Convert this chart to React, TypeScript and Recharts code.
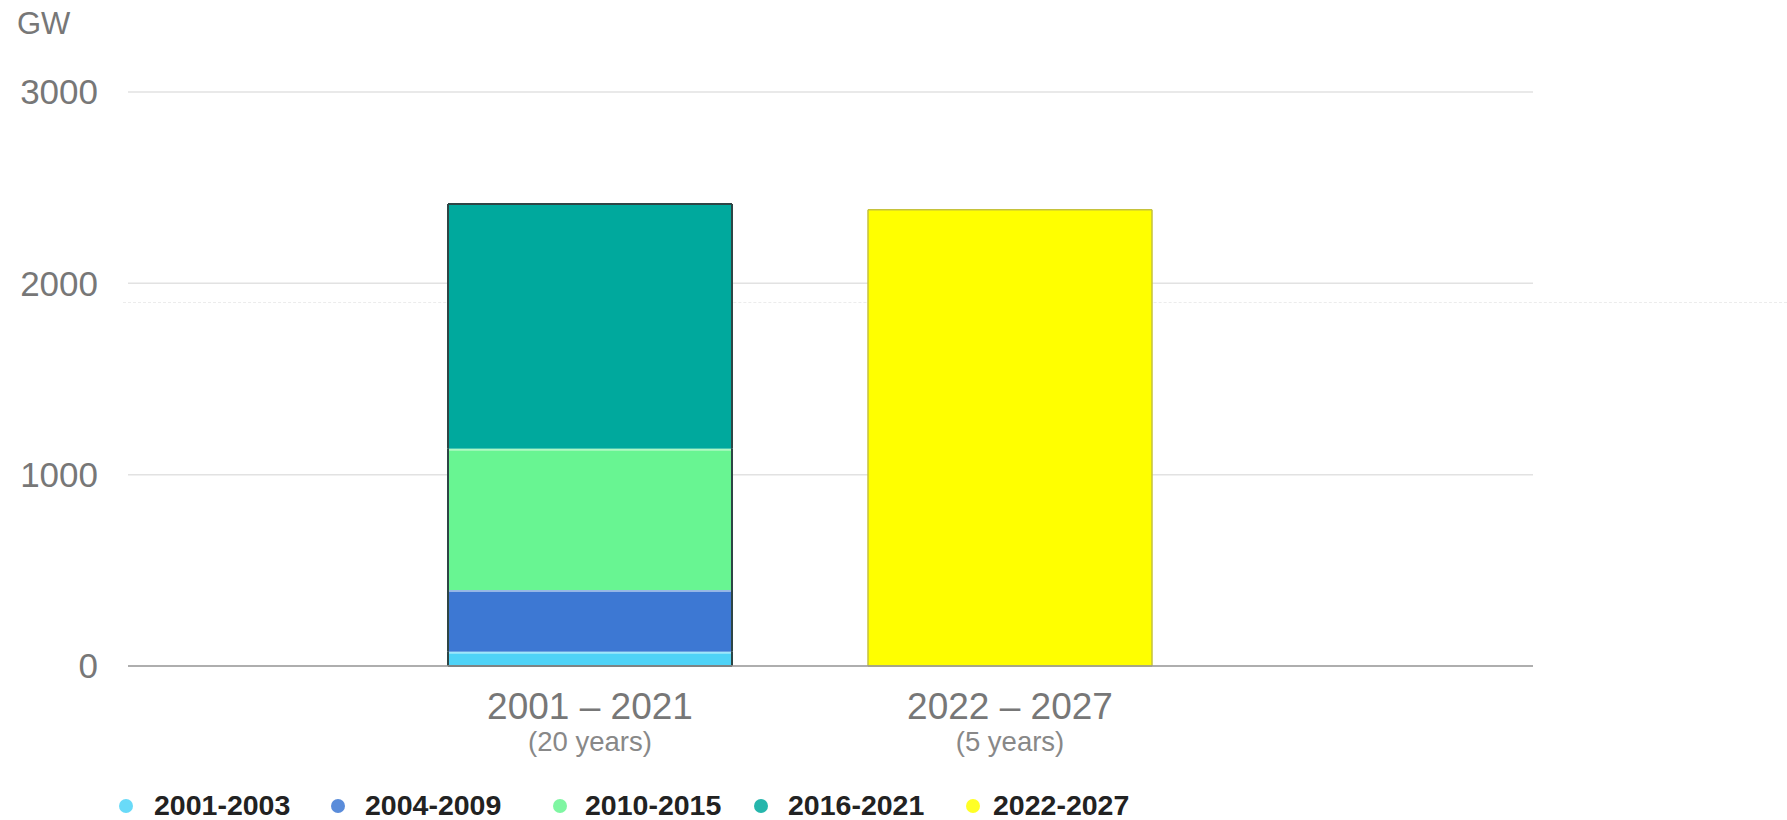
import { Bar, BarChart, CartesianGrid, XAxis, YAxis } from "recharts";

const categories = ["2001 – 2021", "2022 – 2027"];
const spans = ["(20 years)", "(5 years)"];
const seriesNames = ["2001-2003", "2004-2009", "2010-2015", "2016-2021", "2022-2027"];
const seriesColors = ["#4fd3f7", "#3d78d3", "#68f592", "#00a99d", "#ffff00"];
const outlineColors = ["#2e4545", "#c6c23c"];
const gw2001_2003 = [75, 0];
const gw2004_2009 = [322, 0];
const gw2010_2015 = [739, 0];
const gw2016_2021 = [1279, 0];
const gw2022_2027 = [0, 2384];
const yTicks = [0, 1000, 2000, 3000];

const seriesValues = [gw2001_2003, gw2004_2009, gw2010_2015, gw2016_2021, gw2022_2027];
const seriesKeys = seriesNames.map((_, i) => `s${i}`);

const data = categories.map((name, c) => {
  const row: { [key: string]: string | number } = { name, span: spans[c] };
  seriesValues.forEach((vals, i) => (row[seriesKeys[i]] = vals[c]));
  return row;
});

// first / last visible segment of each stacked column
const bottomIdx = categories.map((_, c) => seriesValues.findIndex((v) => v[c] > 0));
const topIdx = categories.map((_, c) => {
  let t = -1;
  seriesValues.forEach((v, i) => v[c] > 0 && (t = i));
  return t;
});

const makeShape = (si: number) => (props: any) => {
  const { x, y, width, height, fill, payload } = props;
  if (!height || height <= 0) return <g />;
  const c = categories.indexOf(payload?.name);
  const edge = outlineColors[c] ?? "#333";
  const sw = c === 0 ? 2 : 1.5;
  const isTop = topIdx[c] === si;
  const isBottom = bottomIdx[c] === si;
  return (
    <g>
      <rect x={x} y={y} width={width} height={height} fill={fill} />
      {!isTop && <line x1={x} x2={x + width} y1={y + 1} y2={y + 1} stroke="rgba(255,255,255,0.45)" strokeWidth={2} />}
      <line x1={x} x2={x} y1={y} y2={y + height} stroke={edge} strokeWidth={sw} />
      <line x1={x + width} x2={x + width} y1={y} y2={y + height} stroke={edge} strokeWidth={sw} />
      {isTop && <line x1={x} x2={x + width} y1={y} y2={y} stroke={edge} strokeWidth={sw} />}
      {isBottom && <line x1={x} x2={x + width} y1={y + height} y2={y + height} stroke={edge} strokeWidth={sw} />}
    </g>
  );
};

const XTick = (props: any) => {
  const { x, y, payload } = props;
  const c = categories.indexOf(payload.value);
  return (
    <g>
      <text x={x} y={y + 53} textAnchor="middle" fill="#777" fontSize={37} fontFamily="'Liberation Sans', Arial, sans-serif">
        {payload.value}
      </text>
      <text x={x} y={y + 85} textAnchor="middle" fill="#888" fontSize={27.5} fontFamily="'Liberation Sans', Arial, sans-serif">
        {spans[c]}
      </text>
    </g>
  );
};

const legendDotX = [126, 338, 560, 761, 973];
const legendTextX = [154, 365, 585, 788, 993];

export default function App() {
  return (
    <div style={{ position: "absolute", left: 0, top: 0, width: 1787, height: 820, background: "#fff", overflow: "hidden" }}>
      <div
        style={{
          position: "absolute",
          left: 17,
          top: 9,
          fontSize: 31,
          lineHeight: "30px",
          color: "#777",
          fontFamily: "'Liberation Sans', Arial, sans-serif",
        }}
      >
        GW
      </div>
      <div style={{ position: "absolute", left: 123, right: 0, top: 302, borderTop: "1px dashed #ececec" }} />
      <BarChart width={1787} height={820} data={data} margin={{ top: 92, right: 254, left: 0, bottom: 0 }} barSize={284}>
        <CartesianGrid vertical={false} stroke="#e2e2e2" strokeWidth={1.5} />
        <YAxis
          domain={[0, 3000]}
          ticks={yTicks}
          width={128}
          axisLine={false}
          tickLine={false}
          tickSize={0}
          tickMargin={30}
          tick={{ fill: "#777", fontSize: 35, fontFamily: "'Liberation Sans', Arial, sans-serif" }}
        />
        <XAxis
          dataKey="name"
          height={154}
          padding={{ left: 252, right: 313 }}
          axisLine={{ stroke: "#9a9a9a", strokeWidth: 1.5 }}
          tickLine={false}
          tickSize={0}
          tickMargin={0}
          tick={<XTick />}
        />
        {seriesKeys.map((k, i) => (
          <Bar key={k} dataKey={k} stackId="a" fill={seriesColors[i]} shape={makeShape(i)} isAnimationActive={false} />
        ))}
      </BarChart>
      {seriesNames.map((n, i) => (
        <div key={n}>
          <span
            style={{
              position: "absolute",
              left: legendDotX[i] - 7,
              top: 799,
              width: 14,
              height: 14,
              borderRadius: "50%",
              background: seriesColors[i],
              opacity: 0.85,
            }}
          />
          <span
            style={{
              position: "absolute",
              left: legendTextX[i],
              top: 791,
              lineHeight: "28px",
              fontSize: 28.5,
              fontWeight: 700,
              color: "#222",
              fontFamily: "'Liberation Sans', Arial, sans-serif",
              whiteSpace: "nowrap",
            }}
          >
            {n}
          </span>
        </div>
      ))}
    </div>
  );
}
